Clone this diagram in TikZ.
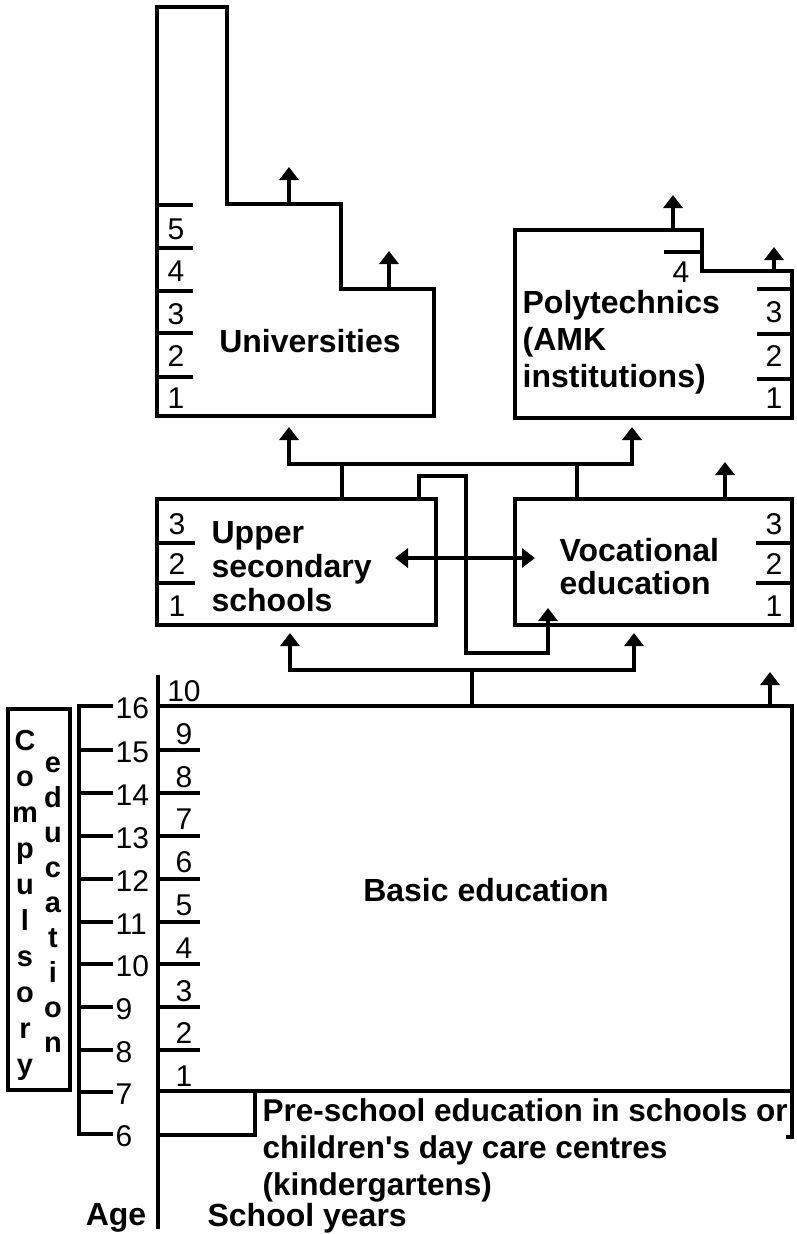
\documentclass[tikz,border=0pt]{standalone}
\usepackage{fontspec}
\setmainfont{Liberation Sans}
\newfontfamily\plainsans{Liberation Sans}
\usetikzlibrary{arrows.meta}
\begin{document}
\begin{tikzpicture}[x=1pt,y=-1pt,
  line width=3.2pt,
  arr/.style={-{Triangle[length=13pt,width=19pt]}},
  dbl/.style={{Triangle[length=13pt,width=19pt]}-{Triangle[length=13pt,width=19pt]}},
  bt/.style={font=\fontsize{32}{36}\selectfont\bfseries, inner sep=0pt},
  num/.style={font=\fontsize{30}{32}\selectfont, inner sep=0pt},
  vt/.style={font=\fontsize{29}{30}\selectfont\bfseries, inner sep=0pt, anchor=base},
]
\useasboundingbox (0,0) rectangle (796,1234);

% ---------- Universities ----------
\draw (157,7) -- (227,7) -- (227,204) -- (341,204) -- (341,289) -- (434,289) -- (434,416) -- (157,416) -- cycle;
\foreach \y in {205,248,291,333,377} \draw (157,\y) -- (193,\y);
\foreach \t/\y in {5/229,4/271,3/314,2/356,1/398} \node[num] (u\t) at (176,\y) {\t};
\node[bt] (uni) at (310,341) {Universities};
\coordinate (ua1) at (289,204); \coordinate (ua1t) at (289,167);
\coordinate (ua2) at (389,289); \coordinate (ua2t) at (389,251);
\draw[arr] (ua1) -- (ua1t);
\draw[arr] (ua2) -- (ua2t);

% ---------- Polytechnics ----------
\draw (515,230) -- (702,230) -- (702,271) -- (792,271) -- (792,418) -- (515,418) -- cycle;
\draw (664,252) -- (702,252);
\node[num] (p4) at (681,272) {4};
\foreach \y in {289,334,379} \draw (757,\y) -- (792,\y);
\foreach \t/\y in {3/312,2/356,1/398} \node[num] (p\t) at (774,\y) {\t};
\node[bt, align=left, anchor=west, font=\fontsize{32}{37}\selectfont\bfseries] (poly) at (521,342) {Polytechnics\\(AMK\\institutions)};
\coordinate (pa1) at (673,230); \coordinate (pa1t) at (673,195);
\coordinate (pa2) at (774,271); \coordinate (pa2t) at (774,247);
\draw[arr] (pa1) -- (pa1t);
\draw[arr] (pa2) -- (pa2t);

% ---------- Upper secondary / Vocational ----------
\draw (157,499) rectangle (436,625);
\draw (515,499) rectangle (792,625);
\foreach \y in {543,583} \draw (157,\y) -- (195,\y);
\foreach \y in {543,583} \draw (756,\y) -- (792,\y);
\foreach \t/\y in {3/524,2/564,1/606} {
  \node[num] (s\t) at (177,\y) {\t};
  \node[num] (v\t) at (774,\y) {\t};
}
\node[bt, align=left, anchor=west, font=\fontsize{32}{34}\selectfont\bfseries] (upper) at (210,567) {Upper\\secondary\\schools};
\node[bt, align=left, anchor=west, font=\fontsize{32}{33}\selectfont\bfseries] (voc) at (558,567) {Vocational\\education};

% connectors to higher education
\coordinate (busA) at (342,464);
\coordinate (busB) at (577,464);
\coordinate (uniIn) at (289,427);
\coordinate (polyIn) at (632,427);
\draw[arr] (busA) -- (289,464) -- (uniIn);
\draw[arr] (busA) -- (632,464) -- (polyIn);
\draw (busA) -- (342,499);
\draw (busB) -- (577,499);

% crossing path upper secondary -> vocational
\coordinate (crS) at (419,499);
\coordinate (crE) at (548,608);
\draw[arr] (crS) -- (419,476) -- (466,476) -- (466,653) -- (548,653) -- (crE);
% double arrow
\coordinate (dL) at (395,558); \coordinate (dR) at (535,558);
\draw[dbl] (dL) -- (dR);
% vocational out arrow
\coordinate (vo) at (725,499); \coordinate (vot) at (725,462);
\draw[arr] (vo) -- (vot);

% ---------- Basic education ----------
\draw (158,706) -- (792,706) -- (792,1137) -- (786,1137);
\draw (158,1091) -- (792,1091);
\draw (158,1135) -- (255,1135);
\draw (255,1091) -- (255,1137);
\node[bt] (basic) at (486,890) {Basic education};
\coordinate (bb) at (472,706); \coordinate (bbus) at (472,670);
\coordinate (upIn) at (290,633); \coordinate (vocIn) at (634,633);
\draw (bb) -- (bbus);
\draw[arr] (bbus) -- (290,670) -- (upIn);
\draw[arr] (bbus) -- (634,670) -- (vocIn);
\coordinate (bo) at (770,706); \coordinate (bot) at (770,672);
\draw[arr] (bo) -- (bot);

% pre-school text
\node[inner sep=0pt, align=left, anchor=west, font=\plainsans\fontsize{31.5}{37}\selectfont\bfseries] (pre) at (261,1150) {Pre-school education in schools or\\children's day care centres\\(kindergartens)};

% ---------- School years axis ----------
\draw (158,675) -- (158,1229);
\foreach \y in {750,793,836,879,922,964,1007,1050} \draw (158,\y) -- (200,\y);
\foreach \n/\y in {10/691,9/734,8/777,7/819,6/862,5/905,4/948,3/991,2/1033,1/1076}
  \node[num] (yr\n) at (184,\y) {\n};

% ---------- Age axis ----------
\draw (113,706) -- (79,706) -- (79,1134) -- (113,1134);
\foreach \y in {750,793,836,879,922,964,1007,1050,1092} \draw (79,\y) -- (113,\y);
\foreach \a/\y in {16/706,15/750,14/793,13/836,12/879,11/922,10/964,9/1007,8/1050,7/1092,6/1134}
  \node[num, anchor=west] (age\a) at (114,\y+2) {\a};

% ---------- Compulsory education ----------
\draw (8,709) rectangle (70,1090);
\foreach \ch [count=\i from 0] in {C,o,m,p,u,l,s,o,r,y}
  \node[vt] (ce\i) at (25,750+36*\i) {\ch};
\foreach \ch [count=\i from 0] in {e,d,u,c,a,t,i,o,n}
  \node[vt] (ed\i) at (53,772+35.1*\i) {\ch};

% ---------- bottom labels ----------
\node[bt] (age) at (116,1218) {Age};
\node[bt, anchor=west] (sy) at (206,1218) {School years};
\end{tikzpicture}
\end{document}
